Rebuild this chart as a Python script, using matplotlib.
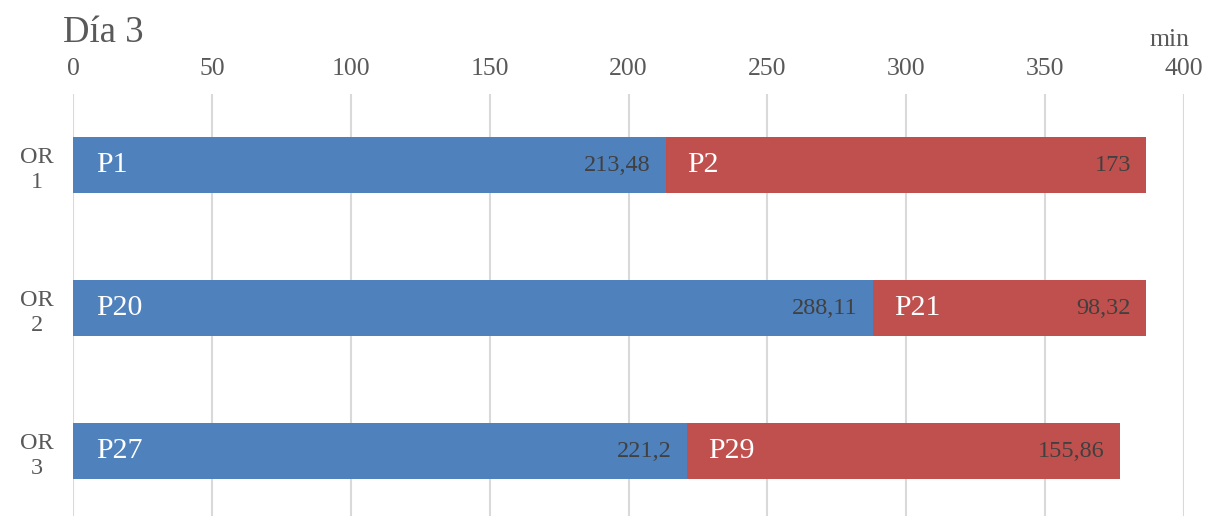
import numpy as np
import matplotlib.pyplot as plt

# data
rooms = ['OR\n1', 'OR\n2', 'OR\n3']
first_names = ['P1', 'P20', 'P27']
first_vals = [213.48, 288.11, 221.2]
second_names = ['P2', 'P21', 'P29']
second_vals = [173, 98.32, 155.86]
xticks = [0, 50, 100, 150, 200, 250, 300, 350, 400]

plt.rcParams['font.family'] = ['Liberation Serif', 'DejaVu Serif']

W, H = 1216, 516
fig = plt.figure(figsize=(W / 100, H / 100), dpi=100)
# axes placement in pixels: x 73..1184, y 93.5..522.5
left, right, top, bottom = 73, 1184, 93.5, 522.5
ax = fig.add_axes([left / W, 1 - bottom / H, (right - left) / W, (bottom - top) / H])

blue = '#4F81BD'
red = '#C0504D'
y = np.arange(len(rooms))
bh = 0.39

ax.barh(y, first_vals, height=bh, color=blue, zorder=3)
ax.barh(y, second_vals, left=first_vals, height=bh, color=red, zorder=3)

def fmt(v):
    s = ('%.2f' % v).rstrip('0').rstrip('.')
    return s.replace('.', ',')

for i in range(len(rooms)):
    a, b = first_vals[i], second_vals[i]
    ax.annotate(first_names[i], (0, i), xytext=(17, 0), textcoords='offset points',
                va='center', ha='left', color='white', fontsize=21.5, zorder=4)
    ax.annotate(fmt(a), (a, i), xytext=(-11, 0), textcoords='offset points',
                va='center', ha='right', color='#404040', fontsize=17.5, zorder=4)
    ax.annotate(second_names[i], (a, i), xytext=(15, 0), textcoords='offset points',
                va='center', ha='left', color='white', fontsize=21.5, zorder=4)
    ax.annotate(fmt(b), (a + b, i), xytext=(-11, 0), textcoords='offset points',
                va='center', ha='right', color='#404040', fontsize=17.5, zorder=4)

ax.set_xlim(0, 400)
ax.set_ylim(len(rooms) - 0.5, -0.5)
ax.set_xticks(xticks)
ax.xaxis.tick_top()
ax.tick_params(axis='x', length=0, pad=9.5, labelsize=18.5, labelcolor='#595959')
ax.set_yticks(y)
ax.set_yticklabels(rooms, fontsize=17.5, color='#595959', linespacing=1.3)
ax.tick_params(axis='y', length=0, pad=26)
for lab in ax.get_yticklabels():
    lab.set_ha('center')

ax.grid(axis='x', color='#D9D9D9', linewidth=1.5, zorder=0)
for s in ax.spines.values():
    s.set_visible(False)

fig.text(63 / W, 1 - 42 / H, 'Día 3', fontsize=26.5, color='#595959', ha='left', va='baseline')
fig.text(1170 / W, 1 - 40 / H, 'min', fontsize=18.5, color='#595959', ha='center', va='center')

fig.savefig('out.png', dpi=100)
